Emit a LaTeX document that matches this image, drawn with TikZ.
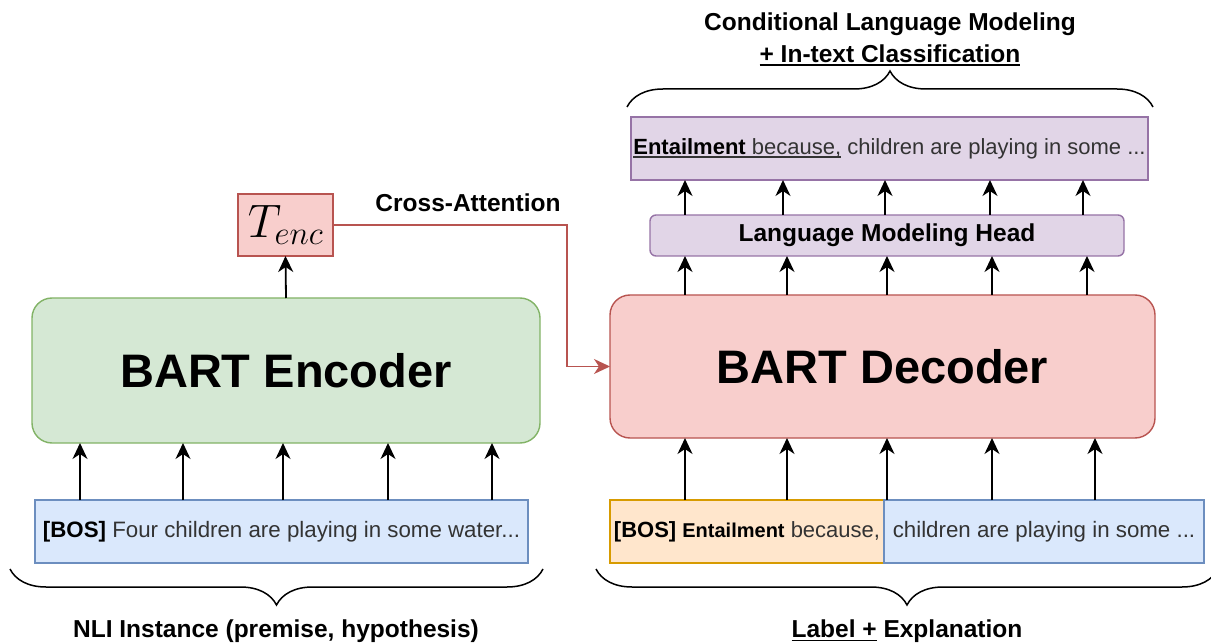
\RequirePackage{fix-cm}
\documentclass[tikz,border=0pt]{standalone}
\usepackage[no-math]{fontspec}
\setmainfont{Liberation Sans}
\usetikzlibrary{arrows.meta,decorations.pathreplacing}

\definecolor{grnfill}{HTML}{D5E8D4}\definecolor{grnline}{HTML}{82B366}
\definecolor{blufill}{HTML}{DAE8FC}\definecolor{bluline}{HTML}{6C8EBF}
\definecolor{redfill}{HTML}{F8CECC}\definecolor{redline}{HTML}{B85450}
\definecolor{purfill}{HTML}{E1D5E7}\definecolor{purline}{HTML}{9673A6}
\definecolor{orgfill}{HTML}{FFE6CC}\definecolor{orgline}{HTML}{D79B00}
\definecolor{txtgray}{HTML}{333333}

% underline with fixed depth and thickness
\newcommand{\myul}[1]{{\setbox0\hbox{#1}\rlap{\rule[-3.5pt]{\wd0}{1.3pt}}\box0}}
\newcommand{\fs}[1]{\fontsize{#1}{#1}\selectfont}

\tikzset{
  box/.style={draw, line width=1.4pt, inner sep=0pt, outer sep=0pt},
  blockbig/.style={box, rounded corners=20pt, font=\fs{47}\bfseries},
  tok/.style={box, font=\fs{22.3}\color{txtgray}},
  flow/.style={-{Stealth[length=16pt,width=15pt,inset=5pt]}, line width=1.8pt},
  xattn/.style={-{Stealth[length=16pt,width=15pt,inset=5pt]}, line width=1.6pt, draw=redline},
  brc/.style={decorate, decoration={brace, amplitude=36pt, aspect=0.5}, line width=1.5pt},
  lbl/.style={font=\fs{24.5}\bfseries}
}

\begin{document}
\begin{tikzpicture}[x=1pt,y=-1pt]
\useasboundingbox (0,0) rectangle (1211,644);
\clip (0,0) rectangle (1211,644);

% encoder side
\node[blockbig, fill=grnfill, draw=grnline, minimum width=508pt, minimum height=145pt] (enc) at (286,370.5) {BART Encoder};
\node[tok, fill=blufill, draw=bluline, minimum width=493pt, minimum height=63pt] (encin) at (281.5,531.5)
  {\textbf{\color{black}[BOS]} Four children are playing in some water...};
\node[box, fill=redfill, draw=redline, minimum width=95pt, minimum height=62pt] (tenc) at (285.5,225)
  {\fs{47}$T_{enc}$};

\foreach \x in {80,183,283,388,492}
  \draw[flow] (\x,500) -- (\x,443);
\draw[flow] (enc.north) -- (tenc.south);

% decoder side
\node[blockbig, fill=redfill, draw=redline, minimum width=545pt, minimum height=143pt] (dec) at (882.5,366.5) {BART Decoder};
\node[box, fill=orgfill, draw=orgline, minimum width=274pt, minimum height=63pt, font=\fs{22}\color{txtgray}] (decin1) at (747,531.5)
  {\textbf{\color{black}[BOS]} {\fs{20}\textbf{\color{black}Entailment}} because,};
\node[tok, fill=blufill, draw=bluline, minimum width=320pt, minimum height=63pt] (decin2) at (1044,531.5)
  {children are playing in some ...};
\node[box, fill=purfill, draw=purline, rounded corners=6pt, minimum width=474pt, minimum height=41pt, font=\fs{24.5}\bfseries] (head) at (887,235.5)
  {Language Modeling Head};
\node[tok, fill=purfill, draw=purline, minimum width=517pt, minimum height=63pt, font=\fs{22}\color{txtgray}] (out) at (889.5,148.5)
  {\myul{\textbf{\color{black}Entailment} because,} children are playing in some ...};

\foreach \x in {685,787,887,992,1095}
  \draw[flow] (\x,500) -- (\x,438);
\foreach \x in {685,787,887,992,1087}
  \draw[flow] (\x,295) -- (\x,256);
\foreach \x in {685,783,885,990,1083}
  \draw[flow] (\x,215) -- (\x,180);

% cross-attention link
\coordinate (bend) at (567,225);
\draw[xattn] (tenc.east) -- (bend) |- (dec.west);
\node[lbl] (xlbl) at (468,203) {Cross-Attention};

% braces and their captions
\coordinate (tbl) at (627,107);
\coordinate (tbr) at (1153,107);
\draw[brc] (tbl) -- (tbr);
\node[lbl] (tcap1) at (890,24) {Conditional Language Modeling};
\node[lbl] (tcap2) at (890,55) {\myul{+ In-text Classification}};

\coordinate (lbl1) at (10,569);
\coordinate (lbr1) at (543,569);
\draw[brc] (lbr1) -- (lbl1);
\node[lbl] (lcap) at (276,631) {NLI Instance (premise, hypothesis)};

\coordinate (rbl) at (596,569);
\coordinate (rbr) at (1218,569);
\draw[brc] (rbr) -- (rbl);
\node[lbl] (rcap) at (907,631) {\myul{Label +} Explanation};
\end{tikzpicture}
\end{document}
